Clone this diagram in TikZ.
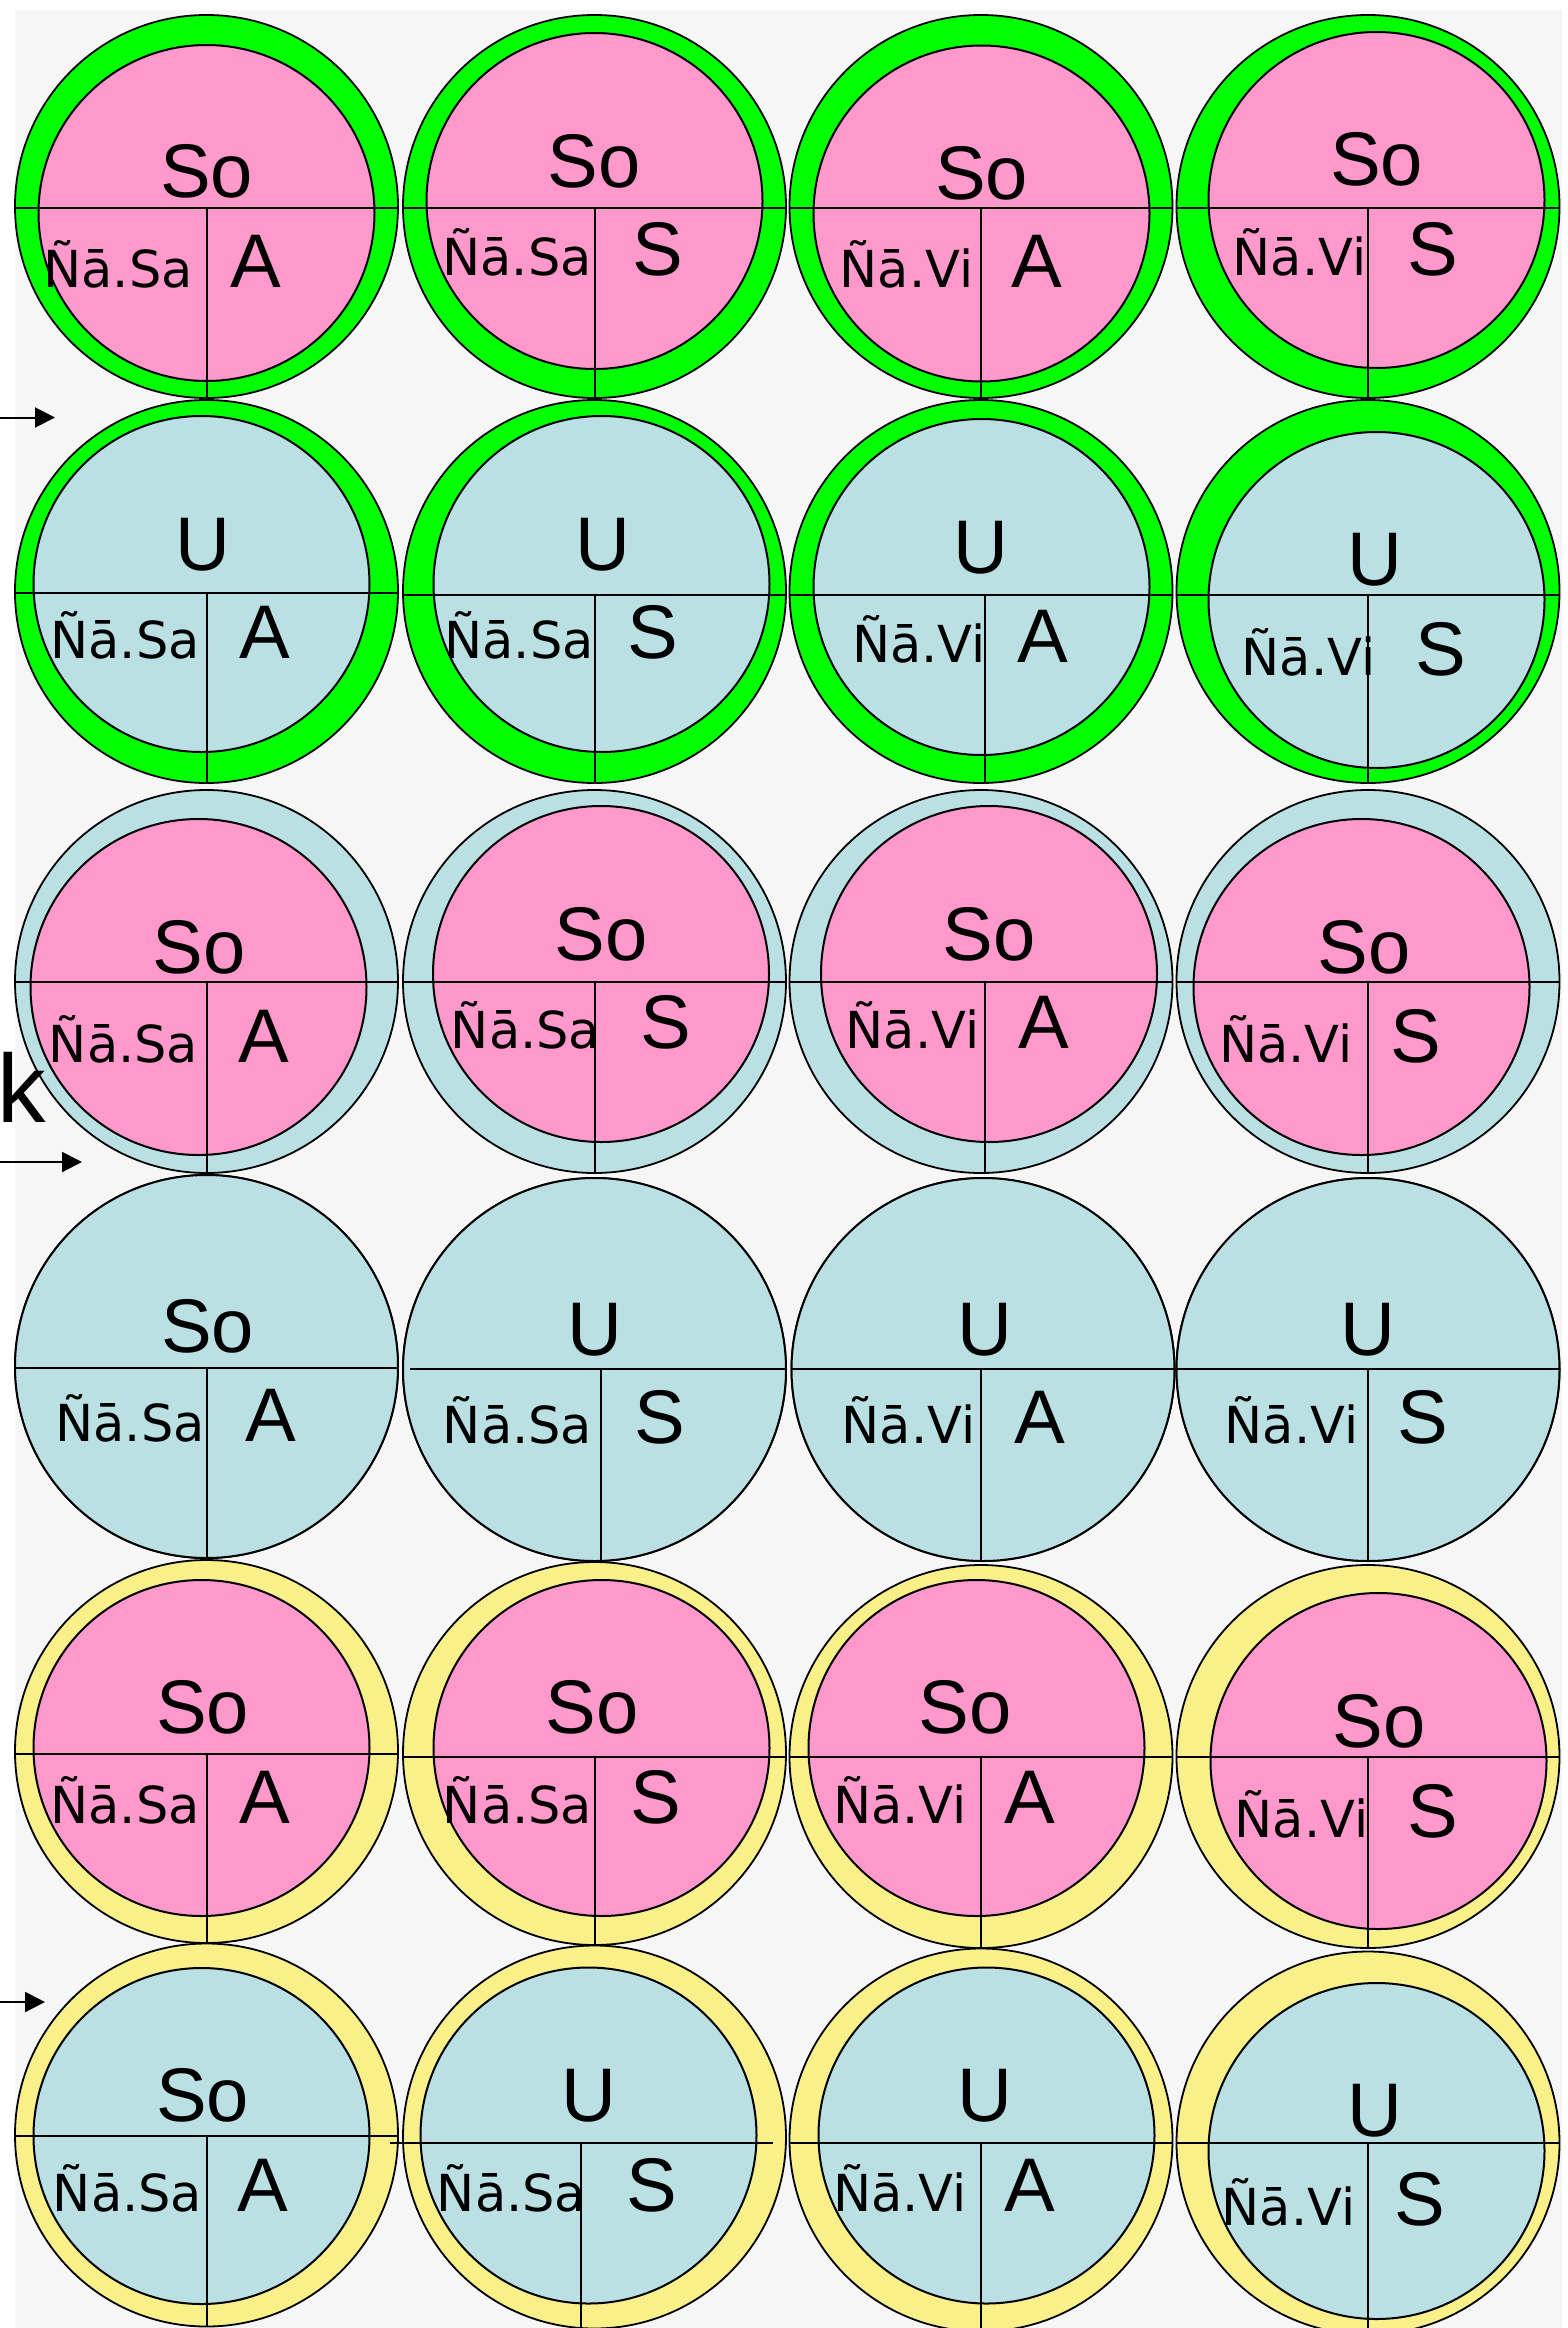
\documentclass[tikz,border=0pt]{standalone}
\usepackage{fontspec}
\setmainfont{Liberation Sans}
\newfontfamily\labfam{DejaVu Sans}
\usetikzlibrary{arrows.meta}
\definecolor{ringgreen}{HTML}{00FF00}
\definecolor{cellpink}{HTML}{FF99CC}
\definecolor{cellblue}{HTML}{BBE0E3}
\definecolor{ringyellow}{HTML}{F9F08A}
\definecolor{bggrey}{HTML}{F6F6F6}
\tikzset{
  ringline/.style={draw=black, line width=0.9pt},
  discline/.style={draw=black, line width=1pt},
  midline/.style={draw=black, line width=1pt},
  stemline/.style={draw=black, line width=0.7pt},
  bigtxt/.style={anchor=base, inner sep=0pt, font=\fontsize{38}{40}\selectfont},
  smalltxt/.style={anchor=base, inner sep=0pt, font=\labfam\fontsize{25.5}{27}\selectfont},
  pointer/.style={draw=black, line width=1pt, -{Triangle[length=10pt,width=10pt]}},
}
\newcommand{\CellBody}[3]{%
  \path[ringline, fill=#1] (\Ox,\Oy) circle[radius=191.5];
  \path[discline, fill=#2] (\Ix,\Iy) circle[radius=#3];
  \draw[midline] (\Ha,\Hy) -- (\Hb,\Hy);
  \draw[stemline] (\Vx,\Hy) -- ({\Vx},{\Oy+191.5*sqrt(1-((\Vx-\Ox)/191.5)^2)});
  \node[bigtxt] (\Id-top) at (\Tx,\Ty) {\Tt};
  \node[smalltxt] (\Id-left) at (\Lx,\By) {\Lt};
  \node[bigtxt] (\Id-right) at (\Rx,\By) {\Rt};
}
\begin{document}
\begin{tikzpicture}[x=0.5pt,y=-0.5pt]
\useasboundingbox (0,0) rectangle (1568,2328);
\fill[white] (0,0) rectangle (1568,2328);
\fill[bggrey] (15,10) rectangle (1562,2328);

% Row 1: green ring, pink disc
\foreach \Id/\Ox/\Oy/\Ix/\Iy/\Hy/\Ha/\Hb/\Vx/\Tt/\Tx/\Ty/\Lt/\Lx/\Rt/\Rx/\By in {
  r1c1/206.5/206.5/206.5/213/208/15/398/207/So/206.5/198/Ñā.Sa/118/A/256/287,
  r1c2/594.5/206.5/594.5/201/208/403/786/595/So/594/187/Ñā.Sa/517/S/657.5/275,
  r1c3/981/206.5/981.5/213.5/208/789.5/1172.5/981/So/981.5/199/Ñā.Vi/906.5/A/1037/287,
  r1c4/1368/206.5/1376.5/200/208/1176.5/1559.5/1368/So/1376.5/185/Ñā.Vi/1299.5/S/1432.5/275}
  {\CellBody{ringgreen}{cellpink}{168}}

% Row 2: green ring, blue disc
\foreach \Id/\Ox/\Oy/\Ix/\Iy/\Hy/\Ha/\Hb/\Vx/\Tt/\Tx/\Ty/\Lt/\Lx/\Rt/\Rx/\By in {
  r2c1/206.5/591.5/201.5/584/593/15/398/207/U/202.5/570/Ñā.Sa/125/A/265/658,
  r2c2/594.5/591.5/601.5/584/595/403/786/595/U/602.5/570/Ñā.Sa/519/S/652.5/658,
  r2c3/981/591.5/981.5/587/595/789.5/1172.5/985/U/980.5/573/Ñā.Vi/919/A/1043/662,
  r2c4/1368/591.5/1376.5/600/595/1176.5/1559.5/1368/U/1375/585/Ñā.Vi/1308.5/S/1440.5/675}
  {\CellBody{ringgreen}{cellblue}{168}}

% Row 3: blue ring, pink disc
\foreach \Id/\Ox/\Oy/\Ix/\Iy/\Hy/\Ha/\Hb/\Vx/\Tt/\Tx/\Ty/\Lt/\Lx/\Rt/\Rx/\By in {
  r3c1/206.5/981.5/198.5/987/982/15/398/207/So/199/973/Ñā.Sa/123.5/A/264/1062,
  r3c2/594.5/981.5/601/974/982/403/786/595/So/601/960/Ñā.Sa/525.5/S/666/1048,
  r3c3/981/981.5/989/974/982/789.5/1172.5/985/So/989/960/Ñā.Vi/912.5/A/1044/1048,
  r3c4/1368/981.5/1361.5/987/982/1176.5/1559.5/1368/So/1364/973/Ñā.Vi/1286/S/1416/1062}
  {\CellBody{cellblue}{cellpink}{168}}

% Row 4: plain blue discs
\foreach \Id/\Ox/\Oy/\Ix/\Iy/\Hy/\Ha/\Hb/\Vx/\Tt/\Tx/\Ty/\Lt/\Lx/\Rt/\Rx/\By in {
  r4c1/206.5/1366.5/206.5/1366.5/1368/15/398/207/So/207.5/1352/Ñā.Sa/130/A/271/1441,
  r4c2/594.5/1369.5/594.5/1369.5/1369/410/786/601/U/595/1355/Ñā.Sa/517.5/S/659.5/1443,
  r4c3/983/1369.5/983/1369.5/1369/791.5/1174.5/981/U/985/1355/Ñā.Vi/908.5/A/1040/1443,
  r4c4/1368/1369.5/1368/1369.5/1369/1176.5/1559.5/1368/U/1367.5/1355/Ñā.Vi/1291.5/S/1423/1443}
  {\CellBody{cellblue}{cellblue}{191.5}}

% Row 5: yellow ring, pink disc
\foreach \Id/\Ox/\Oy/\Ix/\Iy/\Hy/\Ha/\Hb/\Vx/\Tt/\Tx/\Ty/\Lt/\Lx/\Rt/\Rx/\By in {
  r5c1/206.5/1751.5/201.5/1748/1754/15/398/207/So/202.5/1733/Ñā.Sa/125/A/265/1823,
  r5c2/594.5/1753.5/601.5/1748/1757/403/786/595/So/592/1733/Ñā.Sa/517.5/S/656/1823,
  r5c3/981/1756.5/976.5/1748/1757/789.5/1172.5/981/So/965/1733/Ñā.Vi/900/A/1030/1823,
  r5c4/1368/1756.5/1378.5/1761/1757/1176.5/1559.5/1368/So/1379/1747/Ñā.Vi/1301.5/S/1432.5/1837}
  {\CellBody{ringyellow}{cellpink}{168}}

% Row 6: yellow ring, blue disc
\foreach \Id/\Ox/\Oy/\Ix/\Iy/\Hy/\Ha/\Hb/\Vx/\Tt/\Tx/\Ty/\Lt/\Lx/\Rt/\Rx/\By in {
  r6c1/206.5/2135/201.5/2136/2136/15/398/207/So/202.5/2121/Ñā.Sa/127.5/A/263/2211,
  r6c2/594.5/2137/588.5/2135.5/2143/390/773/581/U/588.5/2121/Ñā.Sa/511.5/S/651.5/2211,
  r6c3/981/2140/986.5/2135.5/2143/789.5/1172.5/981/U/985/2121/Ñā.Vi/900/A/1030/2211,
  r6c4/1368/2143/1376.5/2151/2143/1176.5/1559.5/1368/U/1375/2136/Ñā.Vi/1288.5/S/1420/2225}
  {\CellBody{ringyellow}{cellblue}{168}}

% left-edge arrows and label
\coordinate (a1s) at (0,417.5);
\coordinate (a1e) at (55,417.5);
\draw[pointer] (a1s) -- (a1e);
\coordinate (a2s) at (0,1162);
\coordinate (a2e) at (82,1162);
\draw[pointer] (a2s) -- (a2e);
\coordinate (a3s) at (0,2002);
\coordinate (a3e) at (45,2002);
\draw[pointer] (a3s) -- (a3e);
\node[anchor=base west, inner sep=0pt, font=\fontsize{48.5}{50}\selectfont] (klabel) at (-3,1122) {k};
\end{tikzpicture}
\end{document}
